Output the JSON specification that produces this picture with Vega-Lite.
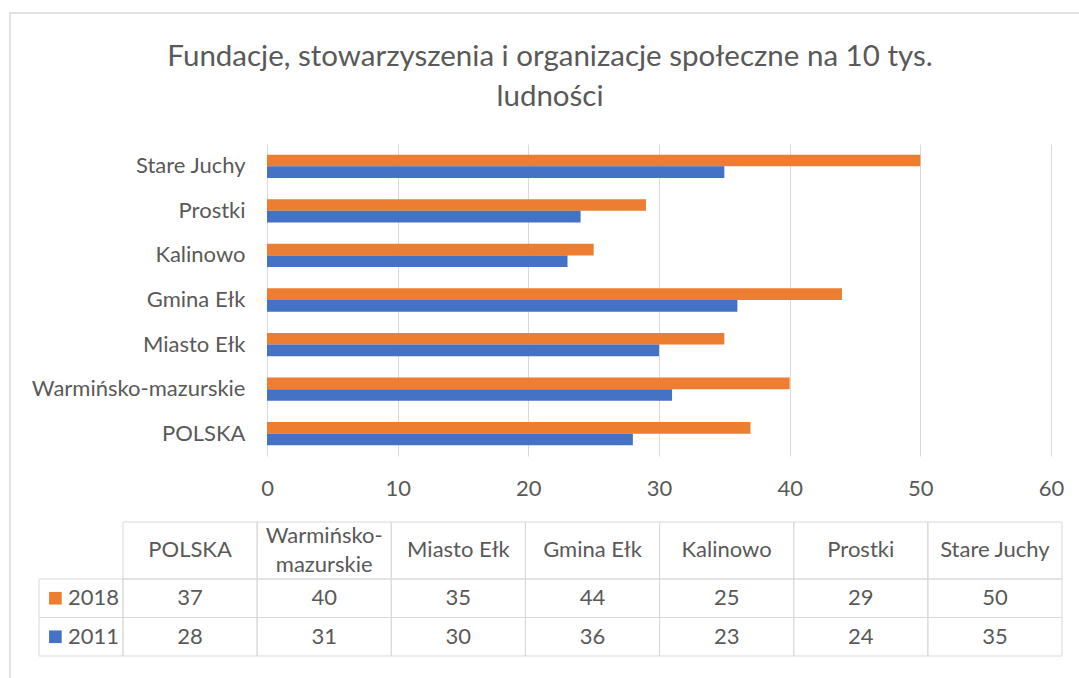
{
  "$schema": "https://vega.github.io/schema/vega-lite/v6.json",
  "autosize": {"type": "none"},
  "padding": {"left": 267, "top": 144, "right": 28, "bottom": 222},
  "width": 784,
  "height": 312,
  "background": "white",
  "config": {"view": {"stroke": null}, "font": "Lato"},
  "title": {
    "text": ["Fundacje, stowarzyszenia i organizacje społeczne na 10 tys.", "ludności"],
    "font": "Lato",
    "fontSize": 29.5,
    "fontWeight": "normal",
    "color": "#595959",
    "anchor": "middle",
    "frame": "group",
    "dx": -109,
    "offset": -100,
    "lineHeight": 40
  },
  "datasets": {
    "values": [
      {"name": "POLSKA", "year": "2018", "value": 37},
      {"name": "POLSKA", "year": "2011", "value": 28},
      {"name": "Warmińsko-mazurskie", "year": "2018", "value": 40},
      {"name": "Warmińsko-mazurskie", "year": "2011", "value": 31},
      {"name": "Miasto Ełk", "year": "2018", "value": 35},
      {"name": "Miasto Ełk", "year": "2011", "value": 30},
      {"name": "Gmina Ełk", "year": "2018", "value": 44},
      {"name": "Gmina Ełk", "year": "2011", "value": 36},
      {"name": "Kalinowo", "year": "2018", "value": 25},
      {"name": "Kalinowo", "year": "2011", "value": 23},
      {"name": "Prostki", "year": "2018", "value": 29},
      {"name": "Prostki", "year": "2011", "value": 24},
      {"name": "Stare Juchy", "year": "2018", "value": 50},
      {"name": "Stare Juchy", "year": "2011", "value": 35}
    ],
    "headers": [
      {"name": "POLSKA", "text": "POLSKA", "line": "środek"},
      {"name": "Warmińsko-mazurskie", "text": "Warmińsko-", "line": "góra"},
      {"name": "Warmińsko-mazurskie", "text": "mazurskie", "line": "dół"},
      {"name": "Miasto Ełk", "text": "Miasto Ełk", "line": "środek"},
      {"name": "Gmina Ełk", "text": "Gmina Ełk", "line": "środek"},
      {"name": "Kalinowo", "text": "Kalinowo", "line": "środek"},
      {"name": "Prostki", "text": "Prostki", "line": "środek"},
      {"name": "Stare Juchy", "text": "Stare Juchy", "line": "środek"}
    ]
  },
  "layer": [
    {
      "data": {"name": "headers"},
      "transform": [{"aggregate": [{"op": "count", "as": "n"}]}],
      "mark": {"type": "rect", "fill": null, "stroke": "#d9d9d9", "strokeWidth": 1.5},
      "encoding": {
        "x": {"datum": "ramka", "type": "nominal", "scale": {"type": "band", "range": [-257, 840], "paddingInner": 0, "paddingOuter": 0}, "axis": null},
        "y": {"datum": "ramka", "type": "nominal", "scale": {"type": "band", "range": [-131, 560], "paddingInner": 0, "paddingOuter": 0}, "axis": null}
      }
    },
    {
      "data": {"name": "values"},
      "mark": {"type": "bar"},
      "encoding": {
        "y": {
          "field": "name",
          "type": "nominal",
          "sort": ["Stare Juchy", "Prostki", "Kalinowo", "Gmina Ełk", "Miasto Ełk", "Warmińsko-mazurskie", "POLSKA"],
          "scale": {"paddingInner": 0.477, "paddingOuter": 0.2385},
          "axis": {"title": null, "domain": false, "ticks": false, "grid": false, "labelPadding": 22, "labelLimit": 400, "labelFontSize": 22, "labelColor": "#595959", "labelFont": "Lato"}
        },
        "yOffset": {"field": "year", "type": "nominal", "sort": ["2018", "2011"]},
        "x": {
          "field": "value",
          "type": "quantitative",
          "scale": {"domain": [0, 60]},
          "axis": {"title": null, "values": [0, 10, 20, 30, 40, 50, 60], "domain": false, "ticks": false, "grid": true, "gridColor": "#d9d9d9", "gridWidth": 1, "labelFlush": false, "labelPadding": 22, "labelFontSize": 22, "labelColor": "#595959", "labelFont": "Lato"}
        },
        "color": {
          "field": "year",
          "type": "nominal",
          "scale": {"domain": ["2018", "2011"], "range": ["#ED7D31", "#4472C4"]},
          "legend": null
        }
      }
    },
    {
      "data": {"name": "headers"},
      "transform": [{"filter": "datum.line !== 'dół'"}],
      "mark": {"type": "rect", "fill": null, "stroke": "#d9d9d9", "strokeWidth": 1},
      "encoding": {
        "x": {
          "field": "name",
          "type": "nominal",
          "sort": ["POLSKA", "Warmińsko-mazurskie", "Miasto Ełk", "Gmina Ełk", "Kalinowo", "Prostki", "Stare Juchy"],
          "scale": {"type": "band", "range": [-144, 795], "paddingInner": 0, "paddingOuter": 0},
          "axis": null
        },
        "y": {
          "datum": "nagłówek",
          "type": "nominal",
          "scale": {"type": "band", "range": [378, 435], "paddingInner": 0, "paddingOuter": 0},
          "axis": null
        }
      }
    },
    {
      "data": {"name": "headers"},
      "mark": {"type": "text", "font": "Lato", "fontSize": 22, "color": "#595959", "baseline": "middle", "align": "center"},
      "encoding": {
        "x": {
          "field": "name",
          "type": "nominal",
          "sort": ["POLSKA", "Warmińsko-mazurskie", "Miasto Ełk", "Gmina Ełk", "Kalinowo", "Prostki", "Stare Juchy"],
          "scale": {"type": "band", "range": [-144, 795], "paddingInner": 0, "paddingOuter": 0},
          "axis": null
        },
        "y": {
          "field": "line",
          "type": "nominal",
          "sort": ["góra", "środek", "dół"],
          "scale": {"type": "point", "range": [391.5, 420.5], "padding": 0},
          "axis": null
        },
        "text": {"field": "text", "type": "nominal"}
      }
    },
    {
      "data": {"name": "values"},
      "encoding": {
        "x": {
          "field": "name",
          "type": "nominal",
          "sort": ["POLSKA", "Warmińsko-mazurskie", "Miasto Ełk", "Gmina Ełk", "Kalinowo", "Prostki", "Stare Juchy"],
          "scale": {"type": "band", "range": [-144, 795], "paddingInner": 0, "paddingOuter": 0},
          "axis": null
        },
        "y": {
          "field": "year",
          "type": "nominal",
          "sort": ["2018", "2011"],
          "scale": {"type": "band", "range": [435, 512], "paddingInner": 0, "paddingOuter": 0},
          "axis": null
        }
      },
      "layer": [
        {"mark": {"type": "rect", "fill": null, "stroke": "#d9d9d9", "strokeWidth": 1}},
        {
          "mark": {"type": "text", "font": "Lato", "fontSize": 22, "color": "#595959", "baseline": "middle", "align": "center"},
          "encoding": {"text": {"field": "value", "type": "quantitative"}}
        }
      ]
    },
    {
      "data": {"name": "values"},
      "transform": [{"filter": "datum.name === 'POLSKA'"}],
      "encoding": {
        "x": {
          "datum": "legenda",
          "type": "nominal",
          "scale": {"type": "band", "range": [-228, -144], "paddingInner": 0, "paddingOuter": 0},
          "axis": null
        },
        "y": {
          "field": "year",
          "type": "nominal",
          "sort": ["2018", "2011"],
          "scale": {"type": "band", "range": [435, 512], "paddingInner": 0, "paddingOuter": 0},
          "axis": null
        }
      },
      "layer": [
        {"mark": {"type": "rect", "fill": null, "stroke": "#d9d9d9", "strokeWidth": 1}},
        {
          "mark": {"type": "point", "shape": "square", "filled": true, "opacity": 1, "size": 160},
          "encoding": {
            "x": {"datum": "legenda", "type": "nominal", "bandPosition": 0.195},
            "color": {"field": "year", "type": "nominal", "legend": null}
          }
        },
        {
          "mark": {"type": "text", "font": "Lato", "fontSize": 22, "color": "#595959", "baseline": "middle", "align": "left"},
          "encoding": {
            "x": {"datum": "legenda", "type": "nominal", "bandPosition": 0.345},
            "text": {"field": "year", "type": "nominal"}
          }
        }
      ]
    }
  ],
  "resolve": {"scale": {"x": "independent", "y": "independent"}}
}
